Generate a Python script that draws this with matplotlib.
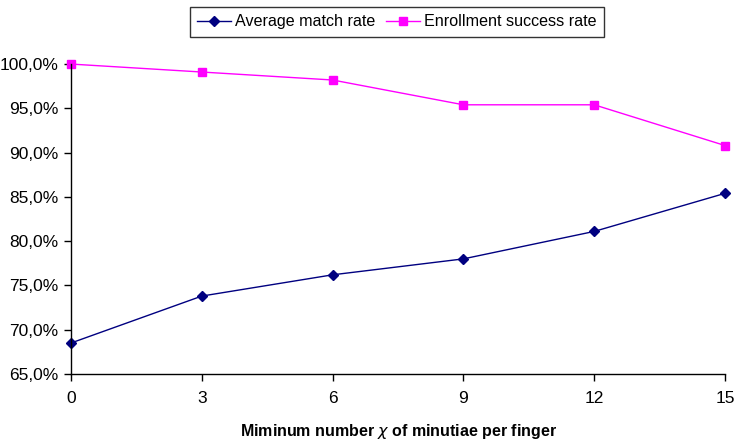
import matplotlib.pyplot as plt
from matplotlib.ticker import FuncFormatter

plt.rcParams['font.family'] = ['Liberation Sans', 'DejaVu Sans']

chi = [0, 3, 6, 9, 12, 15]
match_rate = [68.5, 73.8, 76.2, 78.0, 81.1, 85.4]
enroll_rate = [100.0, 99.1, 98.2, 95.4, 95.4, 90.8]

fig = plt.figure(figsize=(7.43, 4.48), dpi=100)
ax = fig.add_axes([0.0956, 0.1652, 0.8802, 0.6918])

ax.plot(chi, match_rate, color='#000080', lw=1, marker='D', ms=5,
        label='Average match rate')
ax.plot(chi, enroll_rate, color='#FF00FF', lw=1, marker='s', ms=6,
        label='Enrollment success rate')

ax.set_xlim(0, 15)
ax.set_ylim(65, 100)
ax.set_xticks(chi)
ax.set_yticks(range(65, 101, 5))
ax.yaxis.set_major_formatter(FuncFormatter(lambda v, p: f'{v:.1f}%'.replace('.', ',')))
ax.tick_params(direction='out', length=5, width=1, labelsize=12.5, pad=4)
ax.tick_params(axis='x', pad=7)
for s in ['top', 'right']:
    ax.spines[s].set_visible(False)
for s in ['left', 'bottom']:
    ax.spines[s].set_linewidth(1)

ax.set_xlabel(r'Miminum number $\chi$ of minutiae per finger', fontsize=11.5,
              fontweight='bold', labelpad=12)

leg = ax.legend(loc='upper center', bbox_to_anchor=(0.498, 1.184), ncol=2,
                fontsize=11.6, frameon=True, fancybox=False, handlelength=2.1,
                borderpad=0.45, columnspacing=0.7, handletextpad=0.25,
                borderaxespad=0)
leg.get_frame().set_edgecolor('black')
leg.get_frame().set_linewidth(1)

for line in ax.lines:
    line.set_clip_on(False)

fig.savefig('out.png', dpi=100)
